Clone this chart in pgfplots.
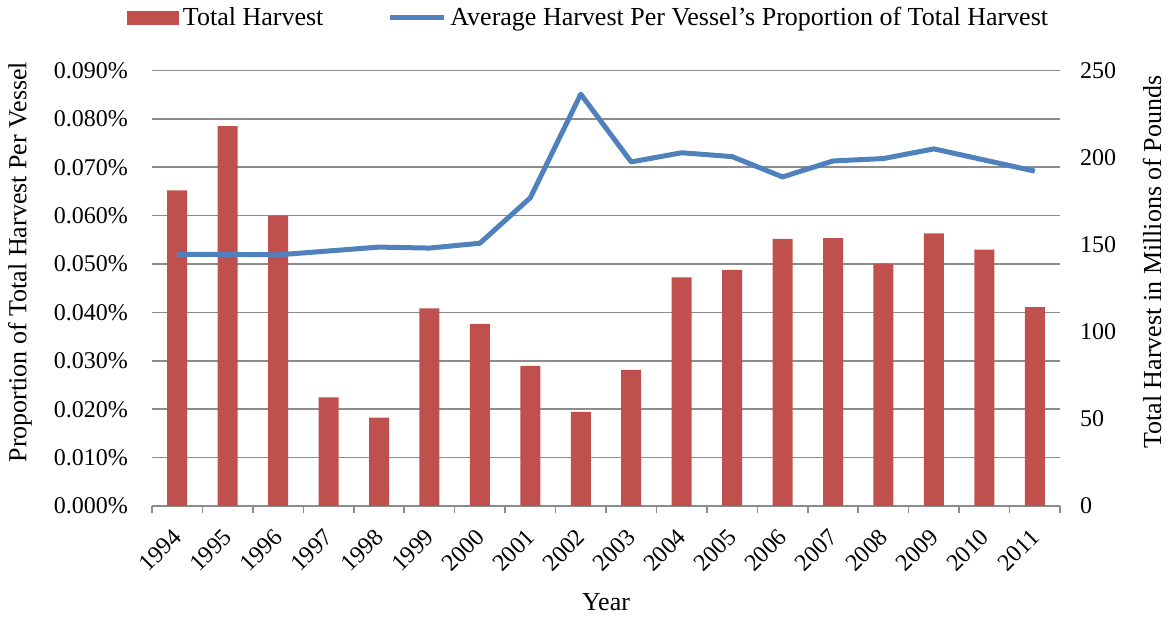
\documentclass[border=0pt]{standalone}
\usepackage{pgfplots}
\pgfplotsset{compat=1.18}
\usepackage{fontspec}
\setmainfont{Liberation Serif}
\definecolor{barred}{HTML}{C0504D}
\definecolor{lineblue}{HTML}{4F81BD}
\definecolor{gridgray}{HTML}{8C8C8C}
\pgfplotsset{
  base/.style={scale only axis, width=454pt, height=217.75pt, xmin=-0.5, xmax=17.5,
    scaled y ticks=false,
    tick label style={font=\fontsize{12}{14}\selectfont},
    label style={font=\fontsize{13}{15}\selectfont}},
}
\begin{document}
\begin{tikzpicture}
% grid
\begin{axis}[base, ymin=0, ymax=0.09,
  axis line style={draw=none}, xtick=\empty,
  ytick={0,0.01,0.02,0.03,0.04,0.05,0.06,0.07,0.08,0.09}, yticklabels={},
  major tick length=0pt, ymajorgrids, major grid style={gridgray, line width=0.8pt}]
\end{axis}
% bars
\begin{axis}[base, ymin=0, ymax=250,
  axis x line*=bottom, axis y line*=right,
  y axis line style={draw=none},
  x axis line style={gridgray, line width=0.8pt},
  ytick={0,50,100,150,200,250}, yticklabels={0,50,100,150,200,250},
  yticklabel style={anchor=west, xshift=6.5pt},
  xtick={0,...,17},
  xticklabels={1994,1995,1996,1997,1998,1999,2000,2001,2002,2003,2004,2005,2006,2007,2008,2009,2010,2011},
  xticklabel style={rotate=45, anchor=east, inner sep=0pt, xshift=-9.4pt, yshift=-9.7pt},
  minor xtick={-0.5,0.5,...,17.5},
  major tick length=0pt, minor tick length=3.5pt, tick align=outside,
  minor tick style={gridgray, line width=0.8pt},
  ylabel={Total Harvest in Millions of Pounds},
  ylabel style={at={(axis description cs:1.1013,0.56)}, anchor=center},
  xlabel={Year},
  xlabel style={at={(axis description cs:0.5,0)}, anchor=center, yshift=-48pt},
  ybar, bar width=10pt]
\addplot[fill=barred, draw=none] coordinates {
 (0,181.2) (1,218.0) (2,166.7) (3,62.4) (4,50.7) (5,113.5) (6,104.5) (7,80.4) (8,54.0)
 (9,78.1) (10,131.3) (11,135.5) (12,153.4) (13,153.8) (14,139.1) (15,156.5) (16,147.1) (17,114.1)};
\end{axis}
% line
\begin{axis}[base, name=main, ymin=0, ymax=0.09,
  axis line style={draw=none}, xtick=\empty,
  ytick={0,0.01,0.02,0.03,0.04,0.05,0.06,0.07,0.08,0.09},
  yticklabels={0.000\%,0.010\%,0.020\%,0.030\%,0.040\%,0.050\%,0.060\%,0.070\%,0.080\%,0.090\%},
  yticklabel style={anchor=east, xshift=-8.5pt},
  major tick length=0pt,
  ylabel={Proportion of Total Harvest Per Vessel},
  ylabel style={at={(axis description cs:-0.1454,0.56)}, anchor=center},
  legend style={at={(0.482,1.1206)}, anchor=center, draw=none, fill=none,
    legend columns=2, font=\fontsize{13}{15}\selectfont,
    /tikz/every even column/.append style={column sep=30pt}},
  legend cell align=left]
\addlegendimage{legend image code/.code={\fill[barred] (0pt,-3.25pt) rectangle (25.5pt,3.25pt);}}
\addlegendentry{Total Harvest}
\addplot[lineblue, line width=2.5pt, line join=round, no marks,
  legend image code/.code={\draw[lineblue, line width=2.5pt] (0pt,0pt) -- (27pt,0pt);}] coordinates {
 (0,0.0520) (1,0.0520) (2,0.0519) (3,0.0527) (4,0.0535) (5,0.0533) (6,0.0543) (7,0.0637) (8,0.0851)
 (9,0.0711) (10,0.0730) (11,0.0722) (12,0.0680) (13,0.0713) (14,0.0718) (15,0.0738) (16,0.0715) (17,0.0692)};
\addlegendentry{Average Harvest Per Vessel's Proportion of Total Harvest}
\end{axis}
\pgfresetboundingbox
\path (main.south west) ++(-76pt,-56pt) coordinate (bl);
\path (main.north east) ++(56pt,35.25pt) coordinate (tr);
\path (bl) rectangle (tr);
\end{tikzpicture}
\end{document}
